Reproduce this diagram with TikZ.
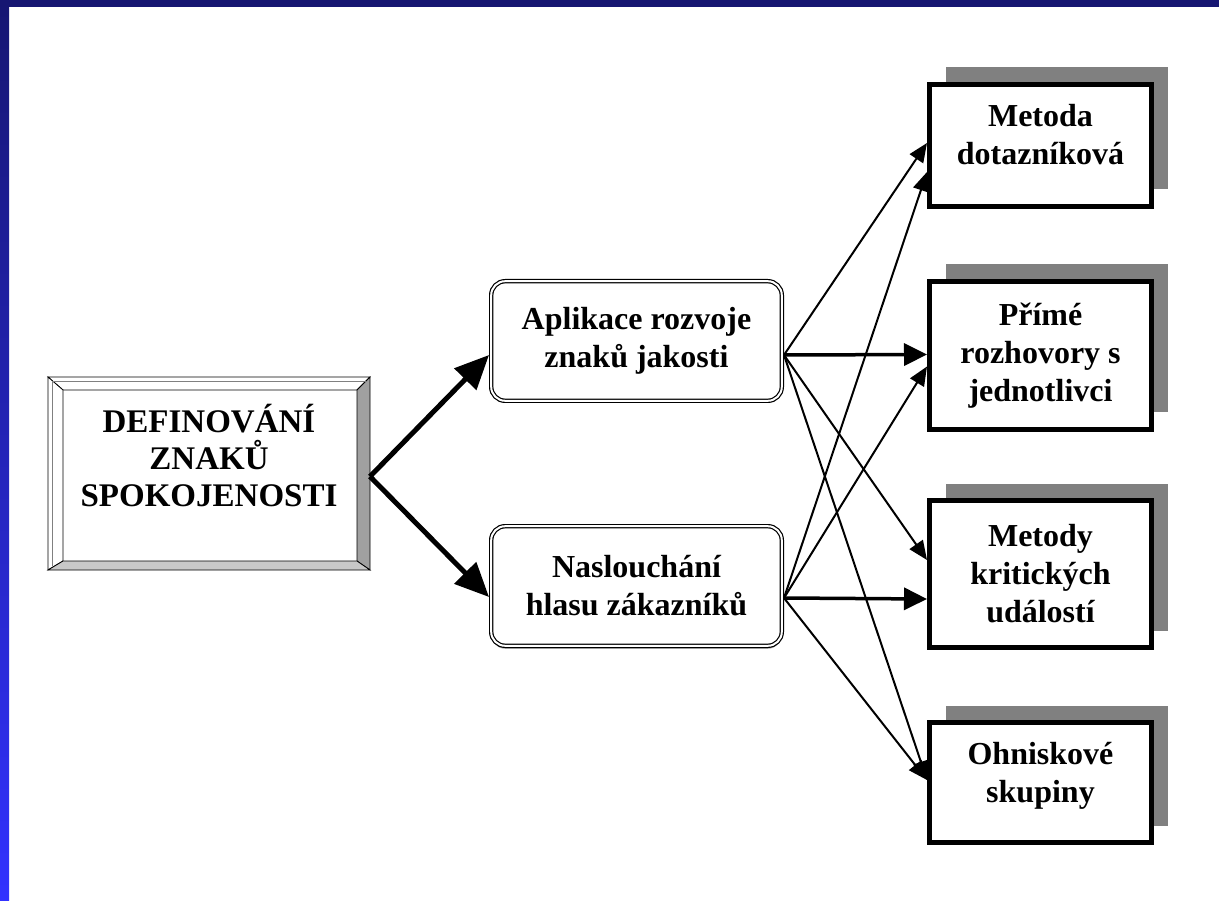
\documentclass[tikz,border=0pt]{standalone}
\usepackage{fontspec}
\setmainfont{Liberation Serif}
\usetikzlibrary{arrows.meta,calc,shadows}
\definecolor{barblue}{HTML}{161672}
\definecolor{barlight}{HTML}{3232FF}
\definecolor{shadowgray}{HTML}{808080}
\definecolor{bevelright}{HTML}{A0A0A0}
\definecolor{bevelbottom}{HTML}{C8C8C8}
\tikzset{
  lbl/.style={font={\bfseries\fontsize{32}{38}\selectfont}, align=center},
  methodbox/.style={draw=black, line width=5pt, fill=white, inner sep=0pt,
    minimum width=222pt, lbl,
    drop shadow={shadow xshift=16pt, shadow yshift=17pt, fill=shadowgray, opacity=1}},
  midbox/.style={draw=black, line width=1.2pt, double=white, double distance=2pt,
    rounded corners=14pt, fill=white, inner sep=0pt, outer sep=2.2pt,
    minimum width=290.6pt, minimum height=119.6pt, lbl},
  defbox/.style={draw=black, line width=1pt, fill=white, inner sep=0pt,
    minimum width=321pt, minimum height=192pt},
  bevel/.style={draw=black, line width=0.8pt},
  bigarrow/.style={line width=5pt, -{Triangle[length=34pt,width=30pt]}},
  thinarrow/.style={line width=2pt, -{Triangle[length=19pt,width=16pt]}},
  medarrow/.style={line width=3.5pt, -{Triangle[length=23pt,width=22pt]}},
}
\begin{document}
\begin{tikzpicture}[x=1pt,y=-1pt]
\useasboundingbox (0,0) rectangle (1219,901);
\fill[white] (0,0) rectangle (1219,901);
\shade[top color=barblue, bottom color=barlight] (0,0) rectangle (9,901);
\fill[barblue] (0,0) rectangle (1219,7);

% left box with bevelled frame
\node[defbox] (def) at (209,473.5) {};
\coordinate (o1) at (def.north west);
\coordinate (o2) at (def.north east);
\coordinate (o3) at (def.south east);
\coordinate (o4) at (def.south west);
\coordinate (i1) at ($(def.north west)+(15,13)$);
\coordinate (i2) at ($(def.north east)+(-13,13)$);
\coordinate (i3) at ($(def.south east)+(-13,-9)$);
\coordinate (i4) at ($(def.south west)+(15,-9)$);
\filldraw[bevel, fill=white] (o1) -- (o2) -- (i2) -- (i1) -- cycle;
\filldraw[bevel, fill=white] (o1) -- (i1) -- (i4) -- (o4) -- cycle;
\filldraw[bevel, fill=bevelright] (o2) -- (o3) -- (i3) -- (i2) -- cycle;
\filldraw[bevel, fill=bevelbottom] (o4) -- (i4) -- (i3) -- (o3) -- cycle;
\draw[gray, line width=0.8pt] ($(o1)+(4,4)$) -- ($(o2)+(-4,4)$);
\draw[gray, line width=0.8pt] ($(o1)+(4,4)$) -- ($(o4)+(4,-4)$);
\node[lbl, font={\bfseries\fontsize{33}{37}\selectfont}] (deftxt) at (209,456)
  {DEFINOVÁNÍ\\ZNAKŮ\\SPOKOJENOSTI};

% middle boxes
\node[midbox] (apl) at (636.5,341) {Aplikace rozvoje\\znaků jakosti};
\node[midbox, drop shadow={shadow xshift=0pt, shadow yshift=-3pt, fill=gray!60, opacity=1}]
  (nas) at (636.5,586) {Naslouchání\\hlasu zákazníků};

% right boxes
\node[methodbox, minimum height=122pt] (m1) at (1040.5,145.5)
  {\begin{tabular}{@{}c@{}}Metoda\\dotazníková\end{tabular}\rule[-46pt]{0pt}{0pt}};
\node[methodbox, minimum height=148pt] (m2) at (1040.5,355.5) {Přímé\\rozhovory s\\jednotlivci};
\node[methodbox, minimum height=147pt] (m3) at (1040.5,574) {Metody\\kritických\\událostí};
\node[methodbox, minimum height=120pt] (m4) at (1040.5,782.5)
  {\begin{tabular}{@{}c@{}}Ohniskové\\skupiny\end{tabular}\rule[-44pt]{0pt}{0pt}};

% connectors
\coordinate (defout) at ($(def.east)+(0,3)$);
\coordinate (aplout) at ($(apl.east)+(0,14)$);
\coordinate (nasout) at ($(nas.east)+(0,12)$);
\draw[bigarrow] (defout) -- ($(apl.west)+(0,14)$);
\draw[bigarrow] (defout) -- ($(nas.west)+(0,11)$);
\draw[thinarrow] (aplout) -- ($(m1.west)+(0,-2.5)$);
\draw[medarrow] (aplout) -- ($(m2.west)+(0,-1)$);
\draw[thinarrow] (aplout) -- ($(m3.west)+(0,-14)$);
\draw[thinarrow] (aplout) -- ($(m4.west)+(0,-2.5)$);
\draw[thinarrow] (nasout) -- ($(m1.west)+(0,26.5)$);
\draw[thinarrow] (nasout) -- ($(m2.west)+(0,11)$);
\draw[medarrow] (nasout) -- ($(m3.west)+(0,25)$);
\draw[thinarrow] (nasout) -- ($(m4.west)+(0,-2.5)$);
\end{tikzpicture}
\end{document}
